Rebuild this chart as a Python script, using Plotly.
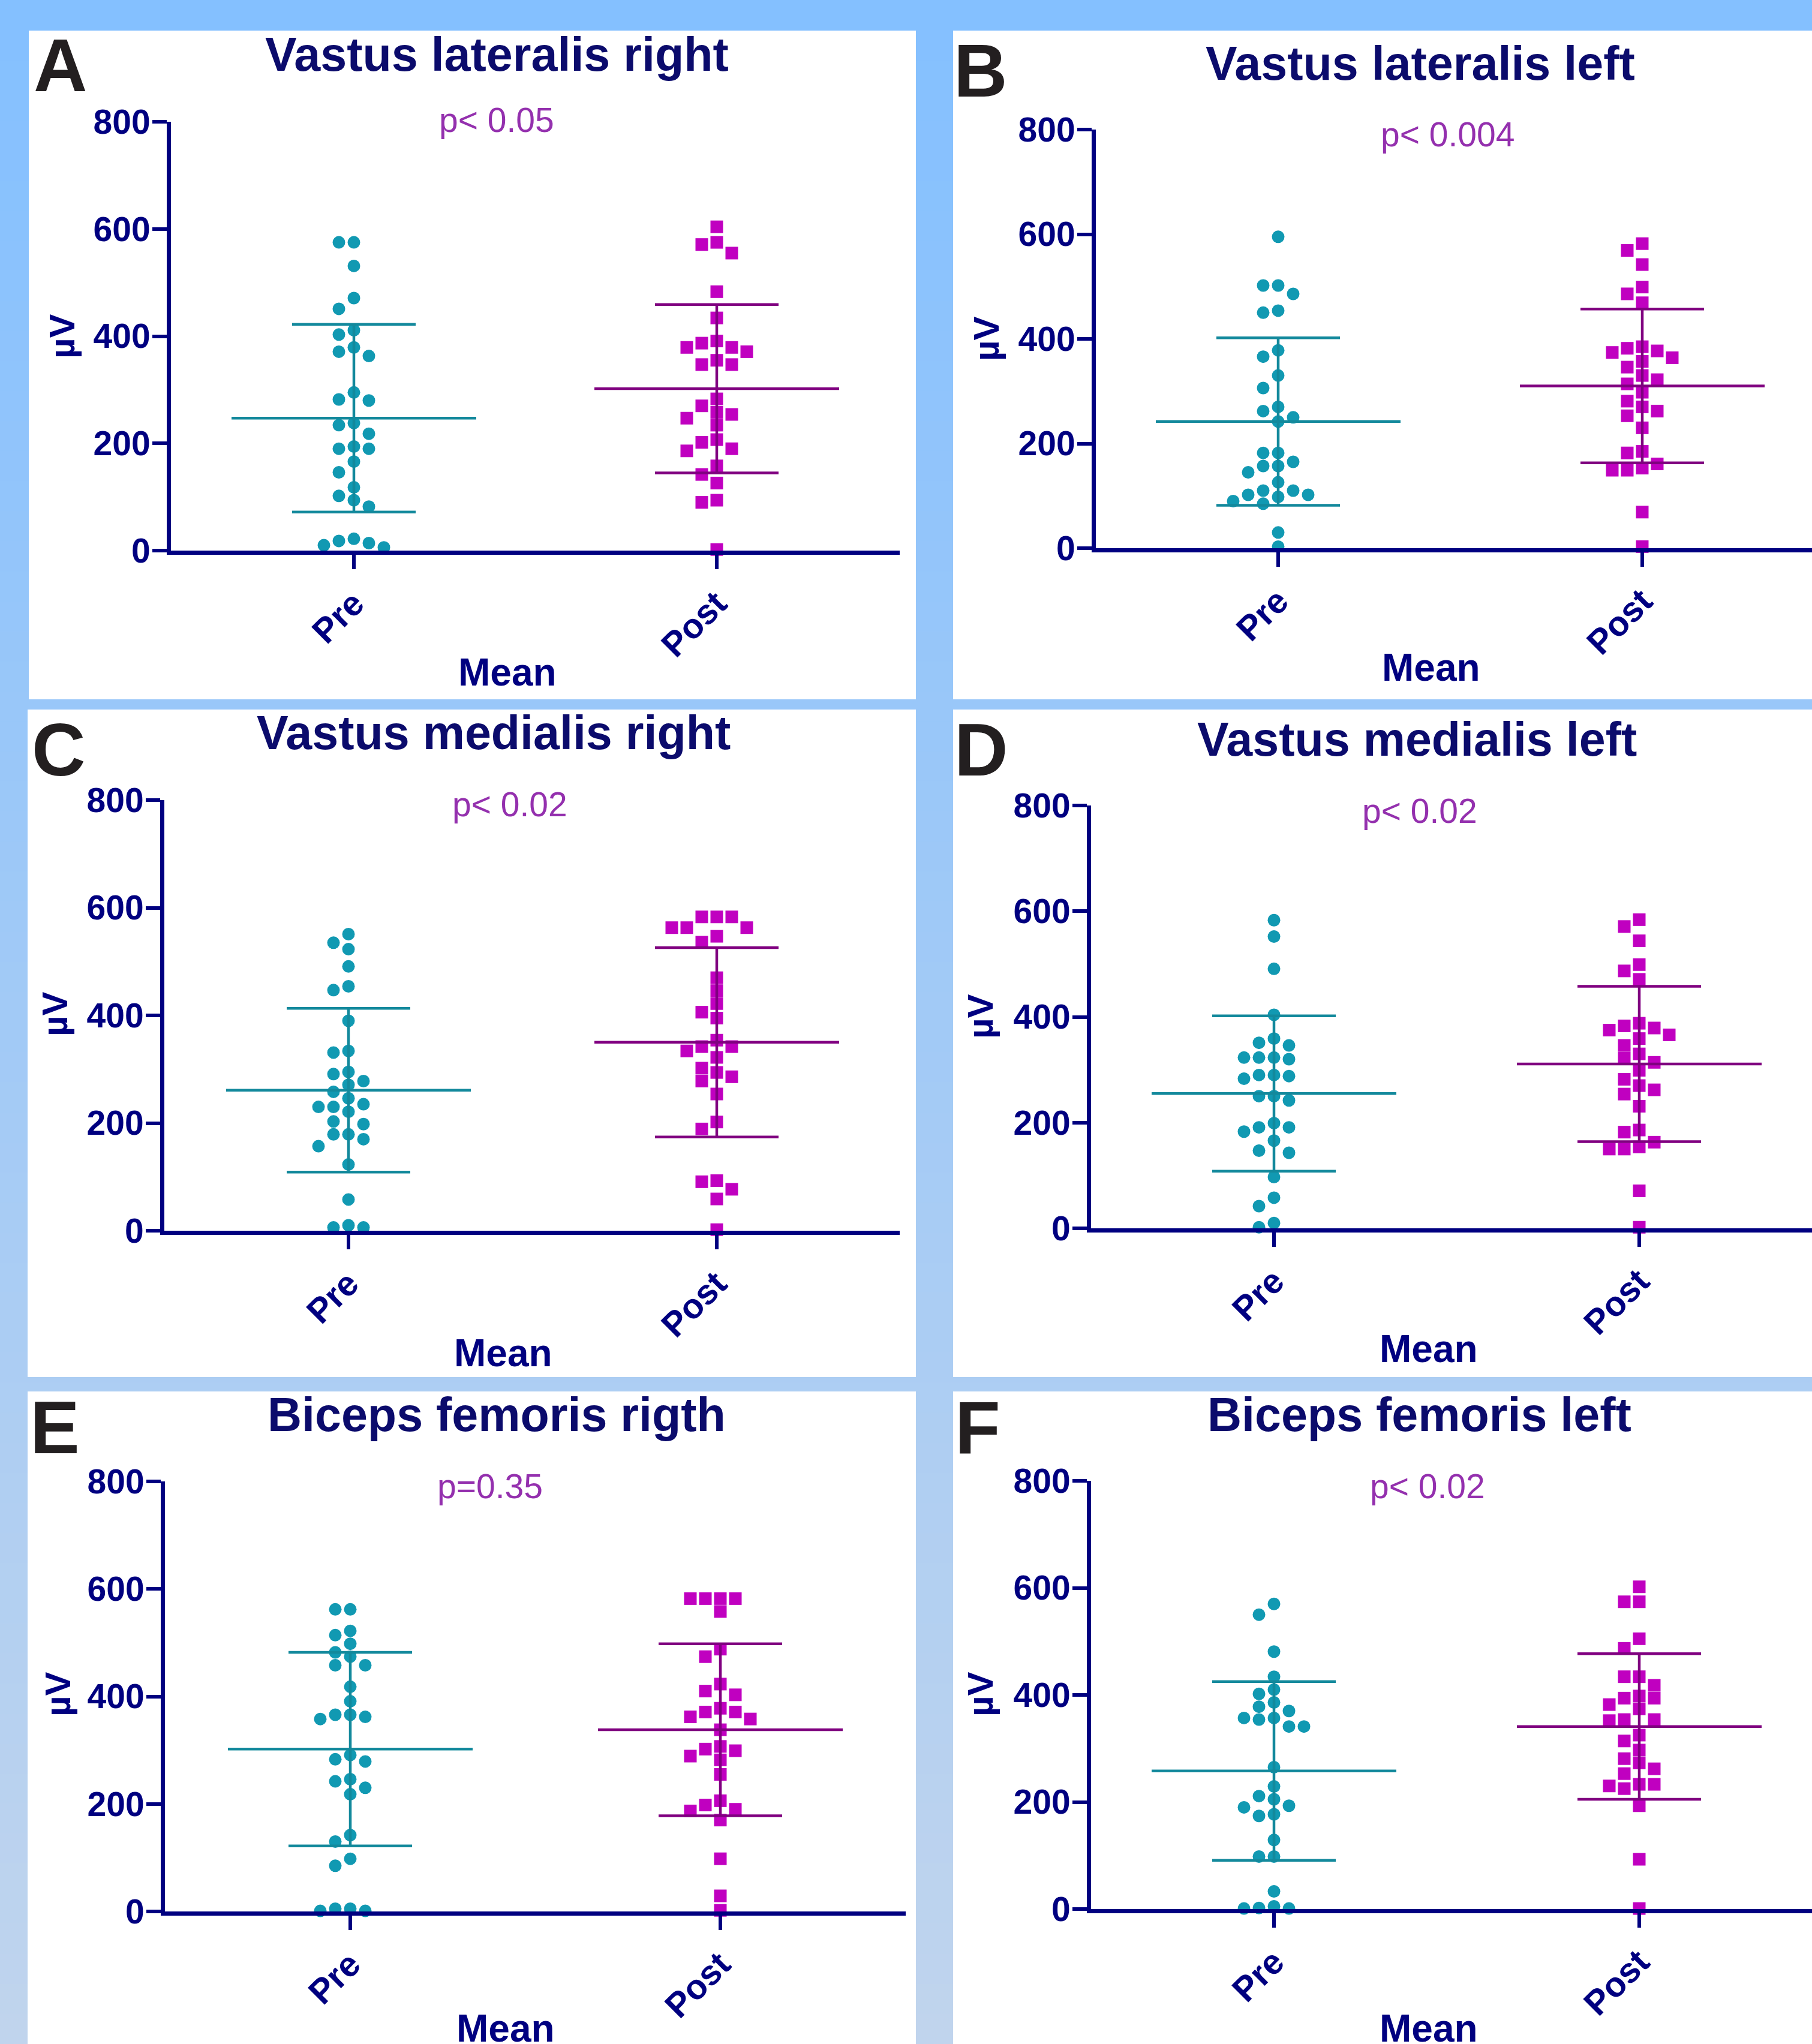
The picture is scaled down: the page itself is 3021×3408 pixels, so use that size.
import plotly.graph_objects as go

W, H = 3021, 3408

# ---------------- data ----------------
panel_letters = ["A", "B", "C", "D", "E", "F"]
titles = ["Vastus lateralis right", "Vastus lateralis left",
          "Vastus medialis right", "Vastus medialis left",
          "Biceps femoris rigth", "Biceps femoris left"]
p_texts = ["p< 0.05", "p< 0.004", "p< 0.02", "p< 0.02", "p=0.35", "p< 0.02"]
categories = ["Pre", "Post"]
y_ticks = [0, 200, 400, 600, 800]

pre_A = [575, 575, 531, 471, 451, 411, 403, 379, 371, 363, 295, 280, 282, 234, 238,
         218, 194, 190, 190, 166, 146, 118, 94, 102, 82, 22, 14, 6, 10, 18]
post_A = [604, 571, 575, 555, 483, 434, 391, 387, 379, 379, 371, 347, 347, 355, 283,
          270, 258, 254, 247, 234, 202, 207, 190, 186, 158, 142, 126, 94, 90, 2]
pre_B = [595, 502, 502, 486, 450, 454, 378, 366, 330, 306, 262, 270, 250, 242, 182,
         182, 165, 157, 157, 145, 126, 110, 110, 102, 98, 102, 90, 85, 30, 3]
post_B = [582, 569, 542, 499, 486, 469, 385, 377, 374, 382, 364, 357, 346, 330, 322,
          314, 298, 281, 270, 262, 253, 230, 185, 182, 161, 153, 149, 149, 69, 3]
pre_C = [551, 535, 523, 491, 454, 447, 390, 331, 334, 295, 291, 278, 271, 258, 246,
         230, 230, 235, 221, 198, 203, 179, 179, 170, 157, 123, 58, 10, 6, 6]
post_C = [583, 583, 583, 563, 563, 563, 547, 536, 470, 446, 422, 406, 395, 354, 342,
          342, 334, 322, 302, 294, 286, 278, 254, 202, 189, 93, 91, 77, 59, 2]
pre_D = [583, 552, 491, 404, 359, 351, 346, 323, 320, 323, 323, 290, 288, 290, 283,
         250, 250, 242, 199, 191, 191, 183, 166, 147, 143, 97, 58, 42, 10, 2]
post_D = [584, 571, 544, 499, 487, 471, 388, 379, 366, 375, 383, 359, 346, 330, 322,
          314, 299, 282, 270, 262, 254, 231, 186, 182, 163, 154, 150, 150, 71, 2]
pre_E = [562, 562, 522, 514, 498, 482, 474, 458, 458, 418, 391, 366, 366, 362, 358,
         291, 283, 279, 246, 242, 230, 218, 142, 130, 98, 85, 5, 1, 1, 5]
post_E = [582, 582, 582, 582, 558, 488, 474, 423, 410, 403, 378, 371, 371, 358, 362,
          338, 307, 299, 302, 289, 282, 255, 206, 198, 190, 187, 170, 98, 29, 2]
pre_F = [570, 550, 481, 434, 410, 402, 386, 378, 370, 357, 357, 354, 341, 341, 265,
         229, 211, 205, 190, 193, 177, 174, 129, 98, 98, 33, 2, 1, 1, 5]
post_F = [602, 574, 574, 505, 487, 434, 434, 418, 394, 394, 398, 382, 374, 354, 352,
          354, 325, 314, 297, 281, 273, 262, 253, 233, 230, 233, 225, 193, 93, 1]

mean_pre = [247, 242, 261, 255, 302, 258]
sd_pre = [175, 160, 152, 147, 180, 167]
mean_post = [302, 310, 350, 311, 338, 341]
sd_post = [157, 147, 176, 147, 160, 136]

pre_sets = [pre_A, pre_B, pre_C, pre_D, pre_E, pre_F]
post_sets = [post_A, post_B, post_C, post_D, post_E, post_F]

# ---------------- layout geometry (pixels) ----------------
# x axis left, Pre px, Post px, x axis end, y(0) px, y(800) px
geom = [
    (285, 590, 1195, 1500, 918, 203),
    (1827, 2131, 2738, 3021, 914, 216),
    (274, 581, 1195, 1500, 2052, 1334),
    (1819, 2124, 2733, 3021, 2048, 1343),
    (275, 584, 1201, 1510, 3187, 2470),
    (1819, 2124, 2733, 3021, 3183, 2469),
]
panels_px = [(48, 51, 1527, 1166), (1589, 51, 3021, 1166),
             (46, 1183, 1527, 2296), (1589, 1183, 3021, 2296),
             (46, 2320, 1527, 3408), (1589, 2320, 3021, 3408)]
letter_px = [(101, 109), (1635, 118), (98, 1250), (1636, 1250), (91, 2380), (1630, 2380)]
title_px = [(828, 91), (2368, 106), (823, 1221), (2362, 1232), (828, 2358), (2366, 2358)]
p_px = [(828, 200), (2413, 224), (850, 1341), (2367, 1352), (817, 2478), (2380, 2478)]
mean_lbl_px = [(846, 1121), (2386, 1113), (839, 2256), (2382, 2249), (843, 3382), (2382, 3382)]
uv_px = [(104, 561), (1645, 565), (91, 1691), (1634, 1695), (96, 2825), (1634, 2825)]

FONT = "Liberation Sans, Arial, Helvetica, sans-serif"
NAVY = "#000080"
TITLE_C = "#0B0B6C"
TEAL_M = "#1199B2"
TEAL_L = "#13899C"
MAG_M = "#C000C0"
PURP_L = "#800080"
P_C = "#9430AE"


def swarm(values, ppu, ppv, d=21.0, step=25.0):
    order = sorted(range(len(values)), key=lambda i: -values[i])
    placed = []
    offs = [0.0] * len(values)
    cands = [0]
    for j in range(1, 12):
        cands += [-j, j]
    for i in order:
        y = values[i] * ppv
        x = 0.0
        for c in cands:
            x = c * step
            if all((x - px) ** 2 + (y - py) ** 2 >= d * d for px, py in placed):
                break
        placed.append((x, y))
        offs[i] = x / ppu
    return offs


fig = go.Figure()
shapes = []
annotations = []

# background gradient
top = (132, 192, 255)
bot = (192, 212, 237)
n = 68
for s in range(n):
    t = s / (n - 1)
    c = tuple(int(round(top[j] + (bot[j] - top[j]) * t)) for j in range(3))
    shapes.append(dict(type="rect", xref="paper", yref="paper", layer="below",
                       x0=0, x1=1, y0=1 - (s + 1) / n - 0.002, y1=1 - s / n,
                       fillcolor="rgb(%d,%d,%d)" % c, line=dict(width=0)))
for (x0, y0, x1, y1) in panels_px:
    shapes.append(dict(type="rect", xref="paper", yref="paper", layer="below",
                       x0=x0 / W, x1=x1 / W, y0=1 - y1 / H, y1=1 - y0 / H,
                       fillcolor="white", line=dict(width=0)))

layout_axes = {}
for k in range(6):
    xl, xp, xq, xe, y0, y8 = geom[k]
    ppu = xq - xp
    ppv = (y0 - y8) / 800.0
    xn = "x" if k == 0 else "x%d" % (k + 1)
    yn = "y" if k == 0 else "y%d" % (k + 1)
    pre = pre_sets[k]
    post = post_sets[k]
    off_pre = swarm(pre, ppu, ppv)
    off_post = swarm(post, ppu, ppv)
    fig.add_trace(go.Scatter(x=[0 + o for o in off_pre], y=pre, mode="markers",
                             marker=dict(symbol="circle", size=21, color=TEAL_M, line=dict(width=0)),
                             xaxis=xn, yaxis=yn, cliponaxis=False, showlegend=False))
    fig.add_trace(go.Scatter(x=[1 + o for o in off_post], y=post, mode="markers",
                             marker=dict(symbol="square", size=21, color=MAG_M, line=dict(width=0)),
                             xaxis=xn, yaxis=yn, cliponaxis=False, showlegend=False))
    hw_mean = 204.0 / ppu
    hw_sd = 103.0 / ppu
    for ci, (m, sd, col) in enumerate([(mean_pre[k], sd_pre[k], TEAL_L),
                                       (mean_post[k], sd_post[k], PURP_L)]):
        xs = [ci - hw_mean, ci + hw_mean, None,
              ci - hw_sd, ci + hw_sd, None,
              ci - hw_sd, ci + hw_sd, None,
              ci, ci]
        ys = [m, m, None, m + sd, m + sd, None, m - sd, m - sd, None, m - sd, m + sd]
        fig.add_trace(go.Scatter(x=xs, y=ys, mode="lines", line=dict(color=col, width=4.5),
                                 xaxis=xn, yaxis=yn, cliponaxis=False, showlegend=False,
                                 hoverinfo="skip"))
    layout_axes["xaxis" if k == 0 else "xaxis%d" % (k + 1)] = dict(
        domain=[xl / W, min(xe / W, 1.0)],
        range=[(xl - xp) / ppu, (xe - xp) / ppu],
        tickmode="array", tickvals=[0, 1], ticktext=categories, tickangle=-45,
        showline=True, linecolor=NAVY, linewidth=7, automargin=False,
        ticks="outside", ticklen=24, tickwidth=6, tickcolor=NAVY,
        showgrid=False, zeroline=False, anchor=yn, fixedrange=True,
        tickfont=dict(family=FONT, size=58, color=NAVY, weight=700))
    layout_axes["yaxis" if k == 0 else "yaxis%d" % (k + 1)] = dict(
        domain=[1 - y0 / H, 1 - y8 / H], range=[0, 800],
        tickmode="array", tickvals=y_ticks, automargin=False,
        showline=True, linecolor=NAVY, linewidth=7,
        ticks="outside", ticklen=24, tickwidth=6, tickcolor=NAVY,
        ticklabelstandoff=-8,
        showgrid=False, zeroline=False, anchor=xn, fixedrange=True,
        tickfont=dict(family=FONT, size=57, color=NAVY, weight=700))

    lx, ly = letter_px[k]
    annotations.append(dict(xref="paper", yref="paper", x=lx / W, y=1 - ly / H,
                            text=panel_letters[k], showarrow=False, xanchor="center", yanchor="middle",
                            font=dict(family=FONT, size=124, color="#231F20", weight=700)))
    tx, ty = title_px[k]
    annotations.append(dict(xref="paper", yref="paper", x=tx / W, y=1 - ty / H,
                            text=titles[k], showarrow=False, xanchor="center", yanchor="middle",
                            font=dict(family=FONT, size=79, color=TITLE_C, weight=700)))
    px_, py_ = p_px[k]
    annotations.append(dict(xref="paper", yref="paper", x=px_ / W, y=1 - py_ / H,
                            text=p_texts[k], showarrow=False, xanchor="center", yanchor="middle",
                            font=dict(family=FONT, size=57, color=P_C)))
    mx, my = mean_lbl_px[k]
    annotations.append(dict(xref="paper", yref="paper", x=mx / W, y=1 - my / H,
                            text="Mean", showarrow=False, xanchor="center", yanchor="middle",
                            font=dict(family=FONT, size=64, color=NAVY, weight=700)))
    ux, uy = uv_px[k]
    annotations.append(dict(xref="paper", yref="paper", x=ux / W, y=1 - uy / H,
                            text="µV", showarrow=False, xanchor="center", yanchor="middle",
                            textangle=-90,
                            font=dict(family=FONT, size=60, color=NAVY, weight=700)))

fig.update_layout(
    width=W, height=H, autosize=False,
    margin=dict(l=0, r=0, t=0, b=0, pad=0, autoexpand=False),
    paper_bgcolor="rgb(132,192,255)", plot_bgcolor="rgba(0,0,0,0)",
    shapes=shapes, annotations=annotations, showlegend=False,
    **layout_axes)

fig.write_html("out.html", include_plotlyjs=True, config={"displayModeBar": False},
               post_script="document.body.style.margin='0px';document.body.style.padding='0px';"
                           "document.body.style.background='rgb(132,192,255)';")
